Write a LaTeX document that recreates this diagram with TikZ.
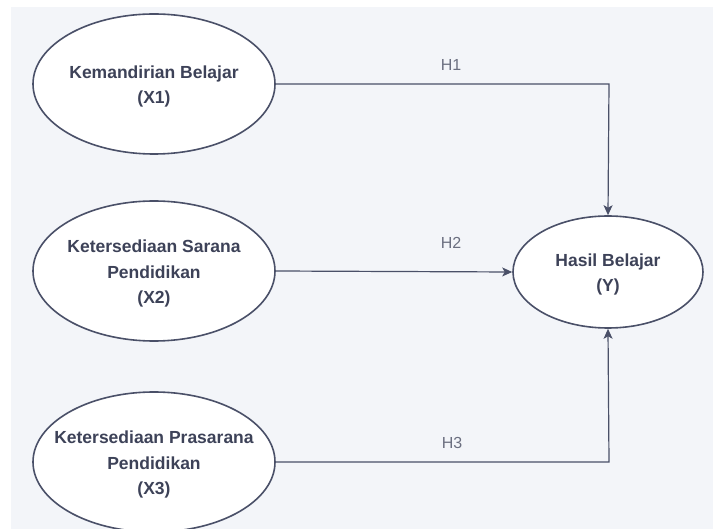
\documentclass[tikz,border=0pt]{standalone}
\usepackage{fontspec}
\setmainfont{Liberation Sans}
\usetikzlibrary{shapes.geometric,arrows.meta}
\definecolor{bg}{HTML}{F3F5F9}
\definecolor{ln}{HTML}{4A5068}
\definecolor{tx}{HTML}{3D4258}
\definecolor{lb}{HTML}{6B6F80}
\tikzset{
  var/.style={ellipse, draw=ln, line width=1.6pt, fill=white, inner sep=0pt,
    minimum width=242pt, minimum height=140pt},
  yvar/.style={var, minimum width=190pt, minimum height=112pt},
  vtext/.style={align=center, text=tx, inner sep=0pt, yshift=-2.5pt,
    font=\fontsize{17.5}{25.5}\selectfont\bfseries},
  conn/.style={draw=ln, line width=1.2pt, -{Stealth[length=10pt,width=9pt,inset=2.5pt]}},
  hlab/.style={text=lb, font=\fontsize{16}{18}\selectfont}
}
\begin{document}
\begin{tikzpicture}[x=1pt,y=-1pt]
\useasboundingbox (0,0) rectangle (713,529);
\fill[white] (0,0) rectangle (713,529);
\fill[bg] (11,7) rectangle (713,529);
\begin{scope}
\clip (0,0) rectangle (713,529);
\node[var] (x1) at (154,84) {};
\node[var] (x2) at (154,271) {};
\node[var] (x3) at (154,462) {};
\node[yvar] (y) at (608,272) {};
\node[vtext] (t1) at (x1.center) {Kemandirian Belajar\\(X1)};
\node[vtext] (t2) at (x2.center) {Ketersediaan Sarana\\Pendidikan\\(X2)};
\node[vtext] (t3) at (x3.center) {Ketersediaan Prasarana\\Pendidikan\\(X3)};
\node[vtext] (ty) at (y.center) {Hasil Belajar\\(Y)};
\end{scope}
\coordinate (c1) at (609,84);
\coordinate (c3) at (609,462);
\draw[conn] (x1.east) -- (c1) -- (y.north);
\draw[conn] (x2.east) -- (y.west);
\draw[conn] (x3.east) -- (c3) -- (y.south);
\node[hlab] (h1) at (451,65) {H1};
\node[hlab] (h2) at (451,243) {H2};
\node[hlab] (h3) at (452,443) {H3};
\end{tikzpicture}
\end{document}
